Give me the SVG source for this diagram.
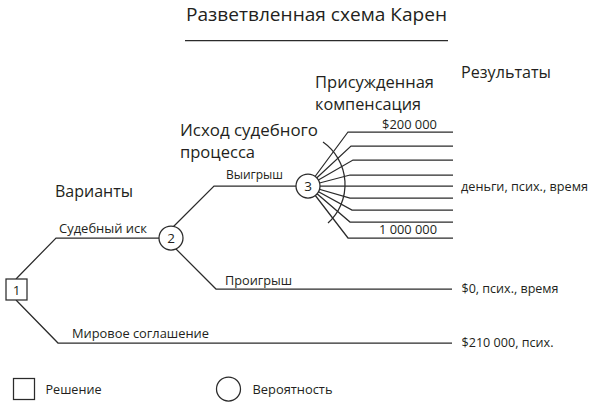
<svg xmlns="http://www.w3.org/2000/svg" width="593" height="408" viewBox="0 0 593 408">
<style>
  .ln{fill:none;stroke:#2b2b2b;stroke-width:1.25}
  .nd{fill:#fff;stroke:#2b2b2b;stroke-width:1.25}
  text{font-family:"Open Sans","Noto Sans","DejaVu Sans",sans-serif;fill:#231f20}
  .t{font-size:19px}
  .h{font-size:17px}
  .s{font-size:13px}
  .n{font-size:13.5px;text-anchor:middle}
</style>
<rect width="593" height="408" fill="#fff"/>
<g id="title">
  <text class="t" x="186" y="21" textLength="261" lengthAdjust="spacingAndGlyphs">Разветвленная схема Карен</text>
  <path class="ln" d="M185,40.5 H448"/>
</g>
<g id="headings">
  <text class="h" x="461" y="77.5" textLength="90" lengthAdjust="spacingAndGlyphs">Результаты</text>
  <text class="h" x="315" y="88" textLength="119" lengthAdjust="spacingAndGlyphs">Присужденная</text>
  <text class="h" x="315" y="110" textLength="106" lengthAdjust="spacingAndGlyphs">компенсация</text>
  <text class="h" x="180" y="136" textLength="138" lengthAdjust="spacingAndGlyphs">Исход судебного</text>
  <text class="h" x="180" y="158" textLength="75" lengthAdjust="spacingAndGlyphs">процесса</text>
  <text class="h" x="55" y="197" textLength="78" lengthAdjust="spacingAndGlyphs">Варианты</text>
</g>
<g id="connectors">
  <path class="ln" d="M16,279 L56,238 H171"/>
  <path class="ln" d="M168,232 L214,186 H308"/>
  <path class="ln" d="M170,243 L216,289 H452"/>
  <path class="ln" d="M16,300 L58,343 H452"/>
  <path class="ln" d="M308,186 L348,132 H453"/>
  <path class="ln" d="M308,186 L351,146 H453"/>
  <path class="ln" d="M308,186 L353,160 H453"/>
  <path class="ln" d="M308,186 L350,175 H453"/>
  <path class="ln" d="M308,186 H453"/>
  <path class="ln" d="M308,186 L350,198 H453"/>
  <path class="ln" d="M308,186 L352,210 H453"/>
  <path class="ln" d="M308,186 L350,222 H453"/>
  <path class="ln" d="M308,186 L348,238 H453"/>
  <path class="ln" d="M323,142 A52,52 0 0 1 328,223"/>
</g>
<g id="edge-labels">
  <text class="s" x="59" y="233" textLength="88" lengthAdjust="spacingAndGlyphs">Судебный иск</text>
  <text class="s" x="226" y="179" textLength="57" lengthAdjust="spacingAndGlyphs">Выигрыш</text>
  <text class="s" x="225" y="285" textLength="67" lengthAdjust="spacingAndGlyphs">Проигрыш</text>
  <text class="s" x="72" y="338" textLength="137" lengthAdjust="spacingAndGlyphs">Мировое соглашение</text>
  <text class="s" x="382" y="129" textLength="55" lengthAdjust="spacingAndGlyphs">$200 000</text>
  <text class="s" x="379" y="234" textLength="58" lengthAdjust="spacingAndGlyphs">1 000 000</text>
</g>
<g id="results">
  <text class="s" x="461" y="191" textLength="127" lengthAdjust="spacingAndGlyphs">деньги, псих., время</text>
  <text class="s" x="461.5" y="293" textLength="97" lengthAdjust="spacingAndGlyphs">$0, псих., время</text>
  <text class="s" x="461.5" y="347" textLength="92" lengthAdjust="spacingAndGlyphs">$210 000, псих.</text>
</g>
<g id="node1">
  <rect class="nd" x="6" y="279" width="21" height="21"/>
  <text class="n" x="16.5" y="294.5">1</text>
</g>
<g id="node2">
  <circle class="nd" cx="171" cy="238" r="12"/>
  <text class="n" x="171" y="243">2</text>
</g>
<g id="node3">
  <circle class="nd" cx="308" cy="186" r="12"/>
  <text class="n" x="308" y="191">3</text>
</g>
<g id="legend">
  <rect class="nd" x="13.5" y="378.5" width="21" height="21"/>
  <text class="s" x="45.5" y="394" textLength="56" lengthAdjust="spacingAndGlyphs">Решение</text>
  <circle class="nd" cx="228.5" cy="389" r="12"/>
  <text class="s" x="252.5" y="393.5" textLength="80" lengthAdjust="spacingAndGlyphs">Вероятность</text>
</g>
</svg>
